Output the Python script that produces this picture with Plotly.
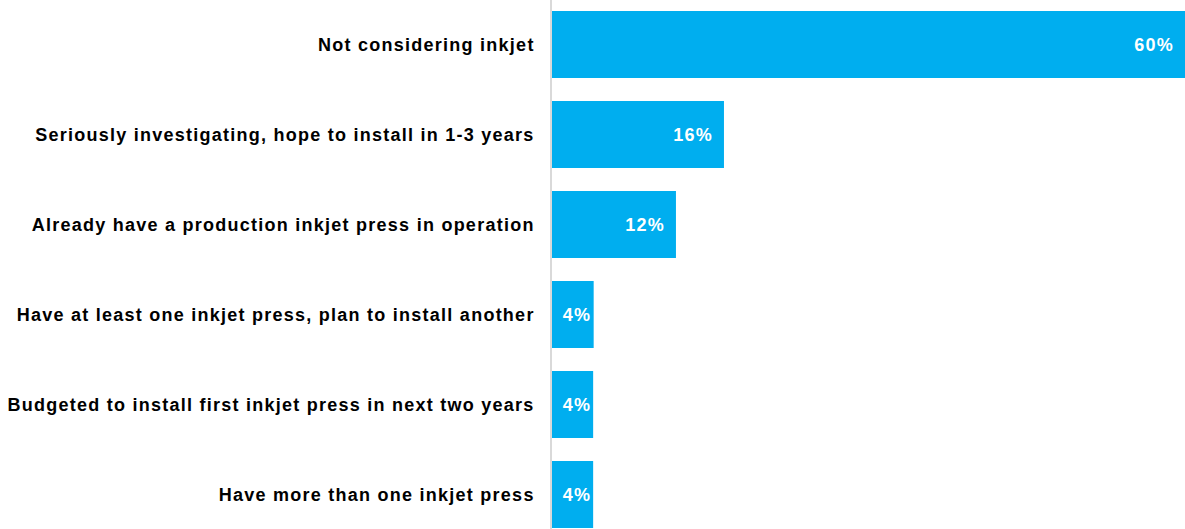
import plotly.graph_objects as go

categories = [
    "Not considering inkjet",
    "Seriously investigating, hope to install in 1-3 years",
    "Already have a production inkjet press in operation",
    "Have at least one inkjet press, plan to install another",
    "Budgeted to install first inkjet press in next two years",
    "Have more than one inkjet press",
]
values = [60.0, 16.3, 11.75, 3.95, 3.9, 3.9]
labels = ["60%", "16%", "12%", "4%", "4%", "4%"]

BAR = "#00AEEF"
FONT = "Liberation Sans, Arial, sans-serif"

fig = go.Figure(go.Bar(
    x=values, y=categories, orientation="h",
    marker=dict(color=BAR, line=dict(width=0)),
    hoverinfo="skip",
))

for v, c, t in zip(values, categories, labels):
    fig.add_annotation(
        x=v, y=c, text=t, showarrow=False, xanchor="right", yanchor="middle",
        xshift=-11 if v > 10 else -1.5,
        font=dict(family=FONT, size=18, color="white", weight="bold"),
    )

n = len(categories)
fig.update_layout(
    width=1185, height=529,
    margin=dict(l=552, r=0, t=0, b=0),
    paper_bgcolor="white", plot_bgcolor="white",
    bargap=0.256, showlegend=False,
    xaxis=dict(range=[0, 60], visible=False, fixedrange=True),
    yaxis=dict(
        categoryorder="array", categoryarray=categories,
        range=[n - 1 + 34.5 / 90, -44.5 / 90],
        showline=True, linecolor="#d9d9d9", linewidth=1.5,
        showgrid=False, zeroline=False, ticks="",
        ticklabelstandoff=12,
        tickfont=dict(family=FONT, size=18, color="black", weight="bold"),
    ),
)

post = """
document.querySelectorAll('.ytick text, .annotation-text').forEach(function(e){
  e.style.letterSpacing = '1.25px';
});
"""

fig.write_html("out.html", config={"displayModeBar": False}, post_script=post)
